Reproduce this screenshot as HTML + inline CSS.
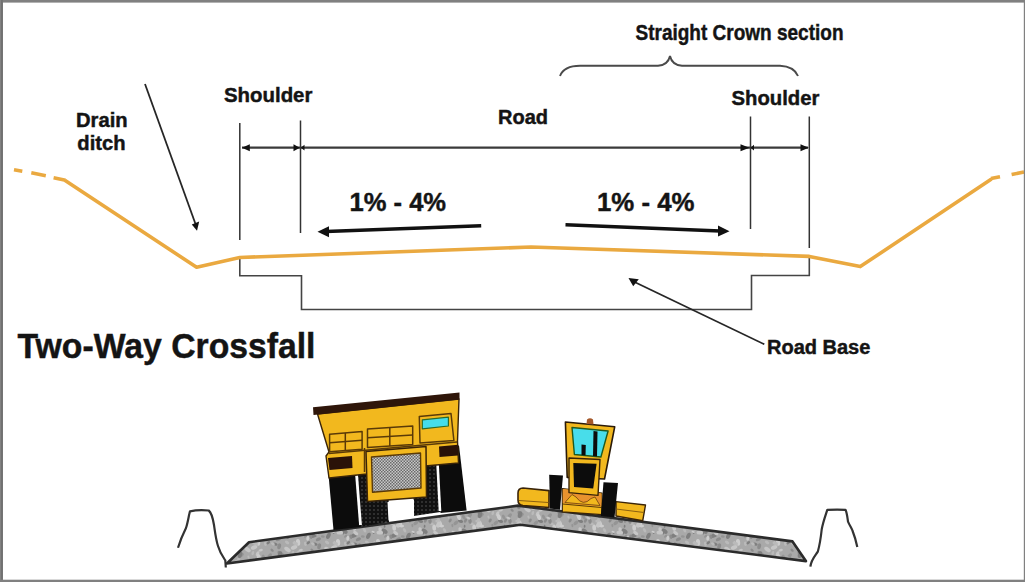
<!DOCTYPE html>
<html><head><meta charset="utf-8">
<style>
html,body{margin:0;padding:0;background:#fff;}
body{width:1025px;height:582px;position:relative;overflow:hidden;}
svg{position:absolute;left:0;top:0;}
.t{font-family:"Liberation Sans",sans-serif;font-weight:bold;fill:#141414;stroke:#141414;stroke-width:0.45px;}
</style></head><body>
<svg width="1025" height="582" viewBox="0 0 1025 582">
<defs>
<pattern id="mesh" width="3" height="3" patternUnits="userSpaceOnUse">
<rect width="3" height="3" fill="#c8c8c8"/><rect width="1.5" height="1.5" fill="#6a6a6a"/><rect x="1.5" y="1.5" width="1.5" height="1.5" fill="#6a6a6a"/>
</pattern>
<pattern id="tread" width="4" height="4" patternUnits="userSpaceOnUse">
<rect width="4" height="4" fill="#111"/><circle cx="2" cy="2" r="0.8" fill="#555"/>
</pattern>
<pattern id="gravel" width="40" height="40" patternUnits="userSpaceOnUse"><rect width="40" height="40" fill="#a9a9a9"/><ellipse cx="18.1" cy="22.4" rx="3.4" ry="2.1" transform="rotate(84 18.1 22.4)" fill="#cdcdcd"/><ellipse cx="34.2" cy="7.6" rx="3.2" ry="1.9" transform="rotate(86 34.2 7.6)" fill="#cdcdcd"/><ellipse cx="31.7" cy="3.8" rx="2.1" ry="1.3" transform="rotate(16 31.7 3.8)" fill="#bababa"/><ellipse cx="31.7" cy="43.8" rx="2.1" ry="1.3" transform="rotate(16 31.7 43.8)" fill="#bababa"/><ellipse cx="25.4" cy="23.8" rx="2.3" ry="1.4" transform="rotate(82 25.4 23.8)" fill="#bababa"/><ellipse cx="24.6" cy="6.3" rx="1.5" ry="0.9" transform="rotate(95 24.6 6.3)" fill="#7f7f7f"/><ellipse cx="1.4" cy="-4.8" rx="2.8" ry="1.7" transform="rotate(140 1.4 -4.8)" fill="#959595"/><ellipse cx="1.4" cy="35.2" rx="2.8" ry="1.7" transform="rotate(140 1.4 35.2)" fill="#959595"/><ellipse cx="41.4" cy="-4.8" rx="2.8" ry="1.7" transform="rotate(140 41.4 -4.8)" fill="#959595"/><ellipse cx="41.4" cy="35.2" rx="2.8" ry="1.7" transform="rotate(140 41.4 35.2)" fill="#959595"/><ellipse cx="17.6" cy="33.7" rx="2.6" ry="1.6" transform="rotate(115 17.6 33.7)" fill="#c6c6c6"/><ellipse cx="0.2" cy="3.4" rx="2.9" ry="1.7" transform="rotate(73 0.2 3.4)" fill="#cdcdcd"/><ellipse cx="0.2" cy="43.4" rx="2.9" ry="1.7" transform="rotate(73 0.2 43.4)" fill="#cdcdcd"/><ellipse cx="40.2" cy="3.4" rx="2.9" ry="1.7" transform="rotate(73 40.2 3.4)" fill="#cdcdcd"/><ellipse cx="40.2" cy="43.4" rx="2.9" ry="1.7" transform="rotate(73 40.2 43.4)" fill="#cdcdcd"/><ellipse cx="-0.2" cy="33.6" rx="3.0" ry="1.8" transform="rotate(57 -0.2 33.6)" fill="#8c8c8c"/><ellipse cx="39.8" cy="33.6" rx="3.0" ry="1.8" transform="rotate(57 39.8 33.6)" fill="#8c8c8c"/><ellipse cx="20.5" cy="1.2" rx="2.7" ry="1.6" transform="rotate(19 20.5 1.2)" fill="#7f7f7f"/><ellipse cx="20.5" cy="41.2" rx="2.7" ry="1.6" transform="rotate(19 20.5 41.2)" fill="#7f7f7f"/><ellipse cx="33.9" cy="15.5" rx="3.5" ry="2.1" transform="rotate(153 33.9 15.5)" fill="#7f7f7f"/><ellipse cx="8.5" cy="-2.9" rx="1.6" ry="1.0" transform="rotate(68 8.5 -2.9)" fill="#bababa"/><ellipse cx="8.5" cy="37.1" rx="1.6" ry="1.0" transform="rotate(68 8.5 37.1)" fill="#bababa"/><ellipse cx="15.9" cy="2.9" rx="2.8" ry="1.7" transform="rotate(140 15.9 2.9)" fill="#959595"/><ellipse cx="15.9" cy="42.9" rx="2.8" ry="1.7" transform="rotate(140 15.9 42.9)" fill="#959595"/><ellipse cx="13.5" cy="12.4" rx="1.5" ry="0.9" transform="rotate(74 13.5 12.4)" fill="#7f7f7f"/><ellipse cx="5.4" cy="28.3" rx="1.5" ry="0.9" transform="rotate(84 5.4 28.3)" fill="#c6c6c6"/><ellipse cx="7.1" cy="22.4" rx="2.4" ry="1.5" transform="rotate(34 7.1 22.4)" fill="#bababa"/><ellipse cx="30.8" cy="16.8" rx="2.3" ry="1.4" transform="rotate(71 30.8 16.8)" fill="#8c8c8c"/><ellipse cx="0.0" cy="34.6" rx="3.5" ry="2.1" transform="rotate(107 0.0 34.6)" fill="#7f7f7f"/><ellipse cx="40.0" cy="34.6" rx="3.5" ry="2.1" transform="rotate(107 40.0 34.6)" fill="#7f7f7f"/><ellipse cx="8.4" cy="15.8" rx="3.3" ry="2.0" transform="rotate(116 8.4 15.8)" fill="#7f7f7f"/><ellipse cx="1.7" cy="5.9" rx="2.4" ry="1.5" transform="rotate(2 1.7 5.9)" fill="#cdcdcd"/><ellipse cx="41.7" cy="5.9" rx="2.4" ry="1.5" transform="rotate(2 41.7 5.9)" fill="#cdcdcd"/><ellipse cx="13.2" cy="11.9" rx="1.7" ry="1.0" transform="rotate(16 13.2 11.9)" fill="#cdcdcd"/><ellipse cx="25.5" cy="0.6" rx="2.3" ry="1.4" transform="rotate(112 25.5 0.6)" fill="#8c8c8c"/><ellipse cx="25.5" cy="40.6" rx="2.3" ry="1.4" transform="rotate(112 25.5 40.6)" fill="#8c8c8c"/><ellipse cx="-1.6" cy="19.3" rx="2.7" ry="1.6" transform="rotate(156 -1.6 19.3)" fill="#8c8c8c"/><ellipse cx="38.4" cy="19.3" rx="2.7" ry="1.6" transform="rotate(156 38.4 19.3)" fill="#8c8c8c"/><ellipse cx="25.1" cy="12.4" rx="2.0" ry="1.2" transform="rotate(110 25.1 12.4)" fill="#bababa"/><ellipse cx="7.6" cy="29.6" rx="3.5" ry="2.1" transform="rotate(35 7.6 29.6)" fill="#c6c6c6"/><ellipse cx="-4.7" cy="24.1" rx="2.4" ry="1.4" transform="rotate(19 -4.7 24.1)" fill="#7f7f7f"/><ellipse cx="35.3" cy="24.1" rx="2.4" ry="1.4" transform="rotate(19 35.3 24.1)" fill="#7f7f7f"/><ellipse cx="20.5" cy="10.2" rx="3.1" ry="1.8" transform="rotate(70 20.5 10.2)" fill="#c6c6c6"/><ellipse cx="32.9" cy="23.9" rx="2.1" ry="1.3" transform="rotate(32 32.9 23.9)" fill="#bababa"/><ellipse cx="-0.9" cy="5.1" rx="2.5" ry="1.5" transform="rotate(118 -0.9 5.1)" fill="#cdcdcd"/><ellipse cx="39.1" cy="5.1" rx="2.5" ry="1.5" transform="rotate(118 39.1 5.1)" fill="#cdcdcd"/><ellipse cx="24.6" cy="11.2" rx="3.4" ry="2.1" transform="rotate(37 24.6 11.2)" fill="#7f7f7f"/><ellipse cx="2.8" cy="16.5" rx="2.0" ry="1.2" transform="rotate(8 2.8 16.5)" fill="#959595"/><ellipse cx="42.8" cy="16.5" rx="2.0" ry="1.2" transform="rotate(8 42.8 16.5)" fill="#959595"/><ellipse cx="14.8" cy="22.9" rx="1.8" ry="1.1" transform="rotate(65 14.8 22.9)" fill="#c6c6c6"/><ellipse cx="-0.8" cy="26.3" rx="3.0" ry="1.8" transform="rotate(105 -0.8 26.3)" fill="#8c8c8c"/><ellipse cx="39.2" cy="26.3" rx="3.0" ry="1.8" transform="rotate(105 39.2 26.3)" fill="#8c8c8c"/><ellipse cx="23.6" cy="-3.1" rx="2.5" ry="1.5" transform="rotate(64 23.6 -3.1)" fill="#959595"/><ellipse cx="23.6" cy="36.9" rx="2.5" ry="1.5" transform="rotate(64 23.6 36.9)" fill="#959595"/><ellipse cx="-1.5" cy="0.9" rx="2.8" ry="1.7" transform="rotate(87 -1.5 0.9)" fill="#bababa"/><ellipse cx="-1.5" cy="40.9" rx="2.8" ry="1.7" transform="rotate(87 -1.5 40.9)" fill="#bababa"/><ellipse cx="38.5" cy="0.9" rx="2.8" ry="1.7" transform="rotate(87 38.5 0.9)" fill="#bababa"/><ellipse cx="38.5" cy="40.9" rx="2.8" ry="1.7" transform="rotate(87 38.5 40.9)" fill="#bababa"/><ellipse cx="12.4" cy="5.5" rx="1.7" ry="1.0" transform="rotate(82 12.4 5.5)" fill="#959595"/><ellipse cx="29.5" cy="-4.0" rx="3.0" ry="1.8" transform="rotate(127 29.5 -4.0)" fill="#959595"/><ellipse cx="29.5" cy="36.0" rx="3.0" ry="1.8" transform="rotate(127 29.5 36.0)" fill="#959595"/><ellipse cx="14.1" cy="27.4" rx="3.4" ry="2.0" transform="rotate(157 14.1 27.4)" fill="#c6c6c6"/><ellipse cx="-2.2" cy="1.2" rx="2.5" ry="1.5" transform="rotate(3 -2.2 1.2)" fill="#bababa"/><ellipse cx="-2.2" cy="41.2" rx="2.5" ry="1.5" transform="rotate(3 -2.2 41.2)" fill="#bababa"/><ellipse cx="37.8" cy="1.2" rx="2.5" ry="1.5" transform="rotate(3 37.8 1.2)" fill="#bababa"/><ellipse cx="37.8" cy="41.2" rx="2.5" ry="1.5" transform="rotate(3 37.8 41.2)" fill="#bababa"/><ellipse cx="15.3" cy="23.3" rx="2.8" ry="1.7" transform="rotate(14 15.3 23.3)" fill="#bababa"/><ellipse cx="4.6" cy="10.3" rx="2.4" ry="1.4" transform="rotate(59 4.6 10.3)" fill="#bababa"/><ellipse cx="44.6" cy="10.3" rx="2.4" ry="1.4" transform="rotate(59 44.6 10.3)" fill="#bababa"/><ellipse cx="27.8" cy="18.3" rx="2.5" ry="1.5" transform="rotate(97 27.8 18.3)" fill="#cdcdcd"/><ellipse cx="30.0" cy="1.2" rx="2.8" ry="1.7" transform="rotate(87 30.0 1.2)" fill="#8c8c8c"/><ellipse cx="30.0" cy="41.2" rx="2.8" ry="1.7" transform="rotate(87 30.0 41.2)" fill="#8c8c8c"/><ellipse cx="-1.7" cy="4.5" rx="3.1" ry="1.9" transform="rotate(119 -1.7 4.5)" fill="#c6c6c6"/><ellipse cx="-1.7" cy="44.5" rx="3.1" ry="1.9" transform="rotate(119 -1.7 44.5)" fill="#c6c6c6"/><ellipse cx="38.3" cy="4.5" rx="3.1" ry="1.9" transform="rotate(119 38.3 4.5)" fill="#c6c6c6"/><ellipse cx="38.3" cy="44.5" rx="3.1" ry="1.9" transform="rotate(119 38.3 44.5)" fill="#c6c6c6"/><ellipse cx="10.2" cy="0.5" rx="2.1" ry="1.3" transform="rotate(122 10.2 0.5)" fill="#8c8c8c"/><ellipse cx="10.2" cy="40.5" rx="2.1" ry="1.3" transform="rotate(122 10.2 40.5)" fill="#8c8c8c"/><ellipse cx="20.7" cy="30.2" rx="2.2" ry="1.3" transform="rotate(167 20.7 30.2)" fill="#c6c6c6"/><ellipse cx="-4.3" cy="13.1" rx="2.9" ry="1.7" transform="rotate(36 -4.3 13.1)" fill="#c6c6c6"/><ellipse cx="35.7" cy="13.1" rx="2.9" ry="1.7" transform="rotate(36 35.7 13.1)" fill="#c6c6c6"/><ellipse cx="32.1" cy="30.2" rx="1.9" ry="1.2" transform="rotate(39 32.1 30.2)" fill="#8c8c8c"/><ellipse cx="23.3" cy="12.7" rx="1.8" ry="1.1" transform="rotate(89 23.3 12.7)" fill="#7f7f7f"/><ellipse cx="28.4" cy="-2.0" rx="2.1" ry="1.2" transform="rotate(30 28.4 -2.0)" fill="#c6c6c6"/><ellipse cx="28.4" cy="38.0" rx="2.1" ry="1.2" transform="rotate(30 28.4 38.0)" fill="#c6c6c6"/><ellipse cx="18.9" cy="-3.0" rx="3.2" ry="1.9" transform="rotate(69 18.9 -3.0)" fill="#cdcdcd"/><ellipse cx="18.9" cy="37.0" rx="3.2" ry="1.9" transform="rotate(69 18.9 37.0)" fill="#cdcdcd"/><ellipse cx="19.8" cy="12.6" rx="3.3" ry="2.0" transform="rotate(177 19.8 12.6)" fill="#c6c6c6"/><ellipse cx="12.8" cy="33.1" rx="2.1" ry="1.3" transform="rotate(109 12.8 33.1)" fill="#bababa"/><ellipse cx="28.3" cy="22.8" rx="2.1" ry="1.3" transform="rotate(142 28.3 22.8)" fill="#7f7f7f"/><ellipse cx="25.6" cy="16.2" rx="1.9" ry="1.1" transform="rotate(138 25.6 16.2)" fill="#959595"/></pattern>
</defs>

<!-- texts -->
<text class="t" x="635.5" y="40" font-size="22.2" textLength="208" lengthAdjust="spacingAndGlyphs">Straight Crown section</text>
<text class="t" x="224" y="102.3" font-size="20.4">Shoulder</text>
<text class="t" x="731.5" y="104.6" font-size="20.3">Shoulder</text>
<text class="t" x="498" y="124.3" font-size="20">Road</text>
<text class="t" x="76" y="127.4" font-size="20.2">Drain</text>
<text class="t" x="77.3" y="149.8" font-size="20.2">ditch</text>
<text class="t" x="349.5" y="210.7" font-size="26.5" textLength="96.6" lengthAdjust="spacingAndGlyphs">1% - 4%</text>
<text class="t" x="597" y="210.7" font-size="26.5" textLength="97.5" lengthAdjust="spacingAndGlyphs">1% - 4%</text>
<text class="t" x="767" y="353.6" font-size="20">Road Base</text>
<text class="t" x="17.5" y="358" font-size="34.5" textLength="298" lengthAdjust="spacingAndGlyphs">Two-Way Crossfall</text>

<!-- brace -->
<path d="M560 76 Q564 65.8 580 65.8 L658 65.8 Q668 65 670 56 Q672 65 682 65.8 L780 65.8 Q794 66.5 798 76" fill="none" stroke="#4a4a4a" stroke-width="1.9"/>

<!-- drain arrow -->
<line x1="145" y1="84" x2="195.5" y2="224" stroke="#262626" stroke-width="1.8"/>
<polygon points="197,230.8 191.8,224.6 199.2,221.6" fill="#111"/>

<!-- dimension verticals -->
<g stroke="#333" stroke-width="1.5" fill="none">
<line x1="239.8" y1="123" x2="239.8" y2="240"/>
<line x1="300.5" y1="120.5" x2="300.5" y2="233"/>
<line x1="750.5" y1="116.5" x2="750.5" y2="229"/>
<line x1="809.3" y1="116.5" x2="809.3" y2="248"/>
</g>
<line x1="242" y1="147.7" x2="808" y2="147.7" stroke="#3a3a3a" stroke-width="2.2"/>
<g fill="#111">
<polygon points="242,147.7 249.8,144.2 249.8,151.2"/>
<polygon points="299.8,147.7 293.5,144.2 293.5,151.2"/>
<polygon points="300.8,147.7 304.5,144.8 304.5,150.6"/>
<polygon points="749.5,147.7 740.5,144.2 740.5,151.2"/>
<polygon points="750.5,147.7 754,144.8 754,150.6"/>
<polygon points="808.8,147.7 800.5,144.2 800.5,151.2"/>
</g>

<!-- slope arrows -->
<line x1="481.2" y1="225.7" x2="326" y2="231.5" stroke="#111" stroke-width="3.4"/>
<polygon points="317.5,231.8 329,226.2 329,237.2" fill="#111"/>
<line x1="565.5" y1="224.8" x2="720" y2="231" stroke="#111" stroke-width="3.4"/>
<polygon points="729.5,231.3 718,225.5 718,236.5" fill="#111"/>

<!-- road base outline -->
<polyline points="239.8,257.5 239.8,275.7 301.5,275.7 301.5,309.5 751.5,309.5 751.5,275.5 809.3,275.5 809.3,256.4" fill="none" stroke="#444" stroke-width="1.6"/>

<!-- road base arrow -->
<line x1="764.3" y1="344.3" x2="634" y2="281.8" stroke="#262626" stroke-width="1.8"/>
<polygon points="628.5,278 638.8,279.2 633.2,286.2" fill="#111"/>

<!-- orange ground -->
<g stroke="#EAA940" stroke-width="3.6" fill="none" stroke-linejoin="round">
<polyline points="64.8,180.2 196.6,267.3 239.8,257.5 531,247 809.3,256.4 860.3,266.6 991.5,179"/>
<line x1="14" y1="169.7" x2="22.3" y2="171.2"/>
<line x1="31.3" y1="172.8" x2="45.8" y2="175.7"/>
<line x1="53.6" y1="177.8" x2="65.5" y2="180.2"/>
<line x1="991" y1="178.6" x2="1000" y2="176.8"/>
<line x1="1011.6" y1="174.6" x2="1024" y2="172"/>
</g>


<!-- ===== bottom illustration ===== -->
<!-- berms -->
<path d="M178,547.7 C181,538 184,532 186,528 C188,522 189,514 190,511.3 C196,510 203,510 208.7,510.5 C212,513 213,519 214,525 C215,532 216,540 218,546 C220,553 223,557 225.3,560.4 L225.8,567.5" fill="none" stroke="#333" stroke-width="2.2" stroke-linejoin="round"/>
<path d="M810.4,566.7 C811,560 815,556 817.8,551.7 C820,544 821,536 821.7,529.5 C823,522 826,514 827.3,509.8 C835,509.5 840,509.5 845.5,509.8 C847,513 847.5,518 848,521.6 C850,526 852,529 852.6,531 C855,537 856,541 857.3,546.9" fill="none" stroke="#333" stroke-width="2.2" stroke-linejoin="round"/>
<!-- gravel slab -->
<polygon points="226.9,563.5 249,542.2 518,505.6 792.5,541.4 805.9,561.1 520.4,524.7" fill="url(#gravel)" stroke="#2b2b2b" stroke-width="2.6" stroke-linejoin="round"/>

<!-- haul truck -->
<g stroke-linejoin="round">
<!-- wheels -->
<polygon points="327,458 355,455 360,527 333.5,530" fill="#0c0c0c"/>
<polygon points="355,455 388,452 389,522 360,527" fill="url(#tread)"/>
<polygon points="437,447 459,445.5 466.6,510.4 440.5,513" fill="#0c0c0c"/>
<polygon points="413,449 437,447 440.5,512 413.5,516" fill="url(#tread)"/>
<line x1="356.5" y1="474" x2="360.5" y2="525" stroke="#fff" stroke-width="2.8"/>
<line x1="437.5" y1="463" x2="440" y2="511" stroke="#fff" stroke-width="2.6"/>
<!-- gap under grill -->
<polygon points="387.5,502 414,499.5 414,517 388.5,520.5" fill="#fff"/>
<!-- body -->
<polygon points="317.5,414 459,399 457.5,441 458.5,463 425,466 367,474 329,478 326,456 329,452" fill="#F2B81E" stroke="#3a2408" stroke-width="1.4"/>
<!-- canopy -->
<polygon points="313,407.3 459.5,392.4 459.5,399.4 313.5,415" fill="#2f160a"/>
<!-- railings -->
<g fill="none" stroke="#5a3a08" stroke-width="1.5">
<polygon points="329.6,434.3 362.1,431.5 362.1,449.3 329.6,451.7"/>
<line x1="329.6" y1="442.8" x2="362.1" y2="440.2"/>
<line x1="345.3" y1="433" x2="345.3" y2="450.5"/>
<polygon points="367.5,428.9 412.7,425.9 412.7,444.5 367.5,447.5"/>
<line x1="367.5" y1="437.8" x2="412.7" y2="435"/>
<line x1="389.8" y1="427.4" x2="389.8" y2="446"/>
<line x1="329" y1="453.5" x2="457" y2="442"/>
<line x1="364.5" y1="448" x2="364.5" y2="472"/>
</g>
<!-- cab window -->
<polygon points="419.3,416.4 451,413.5 453.9,440.5 420,443" fill="none" stroke="#5a3a08" stroke-width="1.5"/>
<polygon points="422.3,419.8 448.4,417.1 448.4,426 422.3,428.8" fill="#45DDEA" stroke="#2c6a2a" stroke-width="1.2"/>
<!-- headlight boxes -->
<polygon points="328,458 352,456 352.5,468 329.5,470" fill="#2a1208"/>
<polygon points="439,446.5 458,444.8 458,455.5 439.5,457" fill="#2a1208"/>
<!-- grill -->
<polygon points="366,451.5 426,446.5 426.5,497 367.5,501.5" fill="#F2B81E" stroke="#3a2408" stroke-width="1.5"/>
<polygon points="371.5,457 420.5,453 421,488 372.5,492.3" fill="url(#mesh)" stroke="#5a3a08" stroke-width="1.4"/>
</g>

<!-- grader -->
<g stroke-linejoin="round">
<path d="M523,488 L549,490.6 L549,507.5 L523,505.5 Q518,505 518,500 L518,493 Q518,488.2 523,488 Z" fill="#F2B81E" stroke="#3a2408" stroke-width="1.6"/>
<line x1="519" y1="500.5" x2="548.5" y2="502.5" stroke="#8a6010" stroke-width="1"/>
<polygon points="616,501.6 645.5,505 642.7,520.8 616,516" fill="#F2B81E" stroke="#3a2408" stroke-width="1.4"/>
<line x1="616" y1="509" x2="644" y2="512.5" stroke="#8a6010" stroke-width="1"/>
<polygon points="562.3,488.5 602,493 602,514.6 562.3,511.9" fill="#F2B81E" stroke="#3a2408" stroke-width="1.2"/>
<path d="M562.8,489 L601.5,493.5 L601.5,506.5 L562.8,503 Z" fill="#E8922E"/><path d="M565,502.5 L572,494.5 L576,497 Q583,507 591,498.5 L595,497 L600,505.5 Z" fill="#F2B81E" stroke="#7a4a10" stroke-width="0.9"/><line x1="562.5" y1="504" x2="601.5" y2="507.5" stroke="#5a3a08" stroke-width="1"/>
<polygon points="549.2,474.8 563,475.4 560,509.8 550,508.5" fill="#0c0c0c"/>
<polygon points="603.5,482.3 618,483 614.5,517.4 600.8,516" fill="#0c0c0c"/>
<polygon points="565.4,422 614.7,426.8 604.5,479 567.2,477.4" fill="#F2B81E" stroke="#2a1a08" stroke-width="1.6"/>
<polygon points="572,427.5 608.1,431 600.9,457 574.4,454.5" fill="#48DDEA" stroke="#1f5a20" stroke-width="1.4"/>
<polygon points="593.5,431 597.5,431.5 597,456.5 593,456" fill="#0c0c0c"/>
<polygon points="581.5,444.5 585.8,445 585.5,455.5 581.5,455" fill="#0c0c0c"/>
<path d="M586.5,424 L587,419.5 Q590,417 593,419.5 L593.5,424.5 Z" fill="#a5582a"/>
<polygon points="569,458 600,459.5 598,495.4 569,492.6" fill="#F2B81E" stroke="#3a2408" stroke-width="1.4"/>
<polygon points="573.3,463 596.6,463.8 593.2,488.5 574,487" fill="#0c0c0c"/>
</g>

<!-- border -->
<rect x="0" y="0" width="1025" height="2.6" fill="#808080"/>
<rect x="0" y="0" width="3" height="582" fill="#828282"/><rect x="1.2" y="0" width="1.5" height="582" fill="#6e6e6e"/>
<rect x="1023.8" y="0" width="1.2" height="582" fill="#808080"/>
<rect x="0" y="579.7" width="1025" height="2.3" fill="#808080"/>
</svg>
</body></html>
